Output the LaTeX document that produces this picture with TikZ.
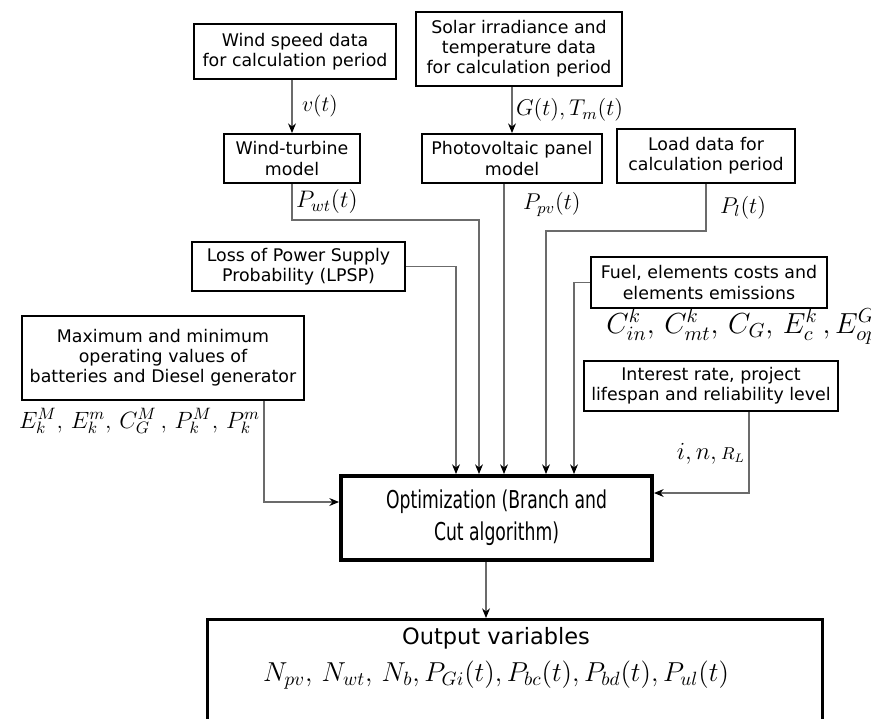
\RequirePackage{fix-cm}
\documentclass[tikz,border=0pt]{standalone}
\usepackage{fontspec}
\setmainfont{DejaVu Sans}
\newfontfamily\optfont[FakeStretch=0.7]{DejaVu Sans}
\usetikzlibrary{arrows.meta,positioning}
\definecolor{linkgray}{gray}{0.42}
\tikzset{
  box/.style={draw, line width=1.1pt, inner sep=1pt, align=center, font=\fontsize{9.9}{11.4}\selectfont},
  link/.style={draw=linkgray, line width=0.6pt},
  lbl/.style={font=\fontsize{13}{15}\selectfont, inner sep=2pt},
}
\begin{document}
\begin{tikzpicture}[>={Stealth[black,length=5.5pt,width=4.5pt]}, x=0.02cm, y=-0.02cm]
\useasboundingbox (0,0) rectangle (871,718);

% input blocks
\node[box, minimum width=4.04cm, minimum height=1.10cm] (windspeed) at (295,51.5) {Wind speed data\\for calculation period};
\node[box, line width=1.4pt, minimum width=4.12cm, minimum height=1.48cm] (solar) at (519,49) {Solar irradiance and\\temperature data\\for calculation period};
\node[box, minimum width=2.72cm, minimum height=0.98cm] (wtmodel) at (292,158.5) {Wind-turbine\\model};
\node[box, minimum width=3.60cm, minimum height=0.98cm] (pvmodel) at (512,158.5) {Photovoltaic panel\\model};
\node[box, minimum width=3.56cm, minimum height=1.08cm] (load) at (706,156) {Load data for\\calculation period};
\node[box, minimum width=4.26cm, minimum height=0.98cm] (lpsp) at (298.5,266.5) {Loss of Power Supply\\Probability (LPSP)};
\node[box, minimum width=5.64cm, minimum height=1.68cm] (maxmin) at (163,358) {Maximum and minimum\\operating values of\\batteries and Diesel generator};
\node[box, minimum width=4.72cm, minimum height=1.02cm] (fuel) at (709,282.5) {Fuel, elements costs and\\elements emissions};
\node[box, minimum width=5.08cm, minimum height=1.00cm] (interest) at (711,386) {Interest rate, project\\lifespan and reliability level};
\node[lbl, font=\fontsize{16.5}{19}\selectfont, below right=-0.08cm and 0.25cm of fuel.south west] (fuelvars) {$C^k_{in},\, C^k_{mt},\, C_G,\, E^k_c\,, E^G_{op}$};

% optimization and output
\node[box, line width=2.3pt, minimum width=6.22cm, minimum height=1.68cm, font=\optfont\fontsize{14}{18.2}\selectfont] (optim) at (496.5,518) {Optimization (Branch and\\Cut algorithm)};
\node[draw, line width=1.7pt, minimum width=12.32cm, minimum height=3cm, anchor=north] (outbox) at (515,618) {};
\node[align=center, font=\fontsize{12.8}{21}\selectfont] (outvars) at (496,658) {Output variables\\{\fontsize{15.6}{21}\selectfont$N_{pv},\, N_{wt},\, N_b, P_{Gi}(t), P_{bc}(t), P_{bd}(t), P_{ul}(t)$}};

\coordinate (in1) at (456,266);
\coordinate (in2) at (479,220);
\coordinate (in3) at (504,183);
\coordinate (in4) at (546,231);
\coordinate (in5) at (574,278);
\coordinate (in6) at (264,502);
\coordinate (in7) at (749,493);
\coordinate (in8) at (486,560);

\draw[link,->] (wtmodel.north |- windspeed.south) -- node[lbl,right=0.12cm,font=\fontsize{12.5}{14}\selectfont]{$v(t)$} (wtmodel.north);
\draw[link,->] (pvmodel.north |- solar.south) -- node[lbl,right]{$G(t), T_m(t)$} (pvmodel.north);
\draw[link,->] (wtmodel.south) |- node[lbl,pos=0.25,right,font=\fontsize{13.6}{15}\selectfont]{$P_{wt}(t)$} (in2) -- (optim.north -| in2);
\draw[link,->] (pvmodel.south -| in3) -- node[lbl,pos=0.07,right=0.3cm]{$P_{pv}(t)$} (optim.north -| in3);
\draw[link,->] (load.south) |- node[lbl,pos=0.25,right=0.2cm]{$P_l(t)$} (in4) -- (optim.north -| in4);
\draw[link,->] (lpsp.east) -| (optim.north -| in1);
\draw[link,->] (fuel.west) -| (optim.north -| in5);
\draw[link,->] (maxmin.south -| in6) |- node[lbl,pos=0.1,left,font=\fontsize{13.4}{15}\selectfont]{$E_k^M,\, E_k^m,\, C_G^M\,,\, P_k^M,\, P_k^m$} (optim.west |- in6);
\draw[link,->] (interest.south -| in7) |- node[lbl,pos=0.26,left,font=\fontsize{14}{16}\selectfont]{$i, n,{\scriptstyle R_L}$} (optim.east |- in7);
\draw[link,->] (optim.south -| in8) -- (outbox.north -| in8);

\end{tikzpicture}
\end{document}
